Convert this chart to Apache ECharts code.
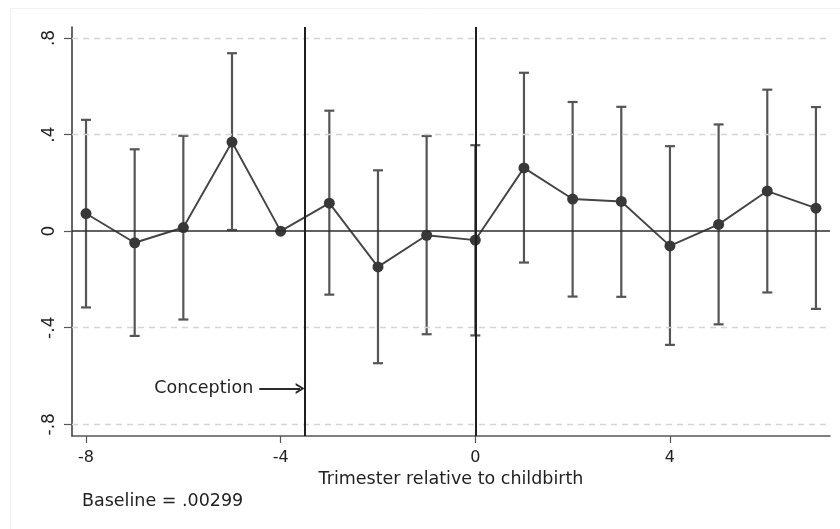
<!DOCTYPE html>
<html>
<head>
<meta charset="utf-8">
<script src="https://cdn.jsdelivr.net/npm/echarts@6/dist/echarts.min.js"></script>
<style>
  html, body { margin: 0; padding: 0; background: #fff; }
  #chart { width: 840px; height: 529px; }
</style>
</head>
<body>
<div id="chart"></div>
<script>
// Event-study estimates by trimester relative to childbirth (trimester -4 is the omitted reference)
const trimesters = [-8, -7, -6, -5, -4, -3, -2, -1, 0, 1, 2, 3, 4, 5, 6, 7];
const estimates  = [0.073, -0.048, 0.015, 0.369, 0, 0.116, -0.148, -0.017, -0.037, 0.262, 0.133, 0.123, -0.061, 0.028, 0.166, 0.095];
const ciLower    = [-0.316, -0.434, -0.366, 0.005, null, -0.263, -0.547, -0.427, -0.432, -0.130, -0.271, -0.272, -0.471, -0.386, -0.254, -0.322];
const ciUpper    = [0.461, 0.339, 0.395, 0.737, null, 0.499, 0.252, 0.394, 0.356, 0.656, 0.535, 0.515, 0.352, 0.442, 0.586, 0.514];

const xTicks = [-8, -4, 0, 4];
const yTicks = [-0.8, -0.4, 0, 0.4, 0.8];
const gridValues = [-0.8, -0.4, 0.4, 0.8];

const conceptionX = -3.5;
const birthX = 0;
const conceptionArrow = { from: [-4.44, -0.652], to: [-3.60, -0.652] };
const baselineText = 'Baseline = .00299';

const FONT = '"DejaVu Sans", "Liberation Sans", Arial, sans-serif';

const lineData = trimesters.map((t, i) => [t, estimates[i]]);
const barData = trimesters
  .map((t, i) => [t, ciLower[i], ciUpper[i]])
  .filter(d => d[1] !== null && d[2] !== null);

const fmtY = v => {
  if (Math.abs(v) < 1e-9) return '0';
  return String(Math.round(v * 10) / 10).replace('0.', '.');
};

const chart = echarts.init(document.getElementById('chart'), null, { renderer: 'canvas' });

chart.setOption({
  animation: false,
  backgroundColor: '#ffffff',
  textStyle: { fontFamily: FONT },
  grid: { left: 72, right: 10, top: 27, bottom: 93, containLabel: false },
  xAxis: {
    type: 'value',
    min: -8.288,
    max: 7.289,
    name: 'Trimester relative to childbirth',
    nameLocation: 'middle',
    nameGap: 31,
    nameTextStyle: { fontFamily: FONT, fontSize: 17.5, color: '#222' },
    axisLine: { show: true, onZero: false, lineStyle: { color: '#555', width: 1.5 } },
    axisTick: { show: true, inside: false, length: 7, customValues: xTicks, lineStyle: { color: '#555', width: 1.2 } },
    axisLabel: { show: true, customValues: xTicks, margin: 14, fontFamily: FONT, fontSize: 16, color: '#222' },
    splitLine: { show: false }
  },
  yAxis: {
    type: 'value',
    min: -0.8485,
    max: 0.8456,
    axisLine: { show: true, onZero: false, lineStyle: { color: '#333', width: 1.5 } },
    axisTick: { show: true, inside: false, length: 8, customValues: yTicks, lineStyle: { color: '#555', width: 1.2 } },
    axisLabel: {
      show: true, customValues: yTicks, rotate: 90, margin: 14,
      fontFamily: FONT, fontSize: 17, color: '#222', formatter: fmtY
    },
    splitLine: { show: false }
  },
  graphic: [
    {
      type: 'rect', silent: true, z: -10,
      shape: { x: 10.5, y: 8.5, width: 840, height: 540 },
      style: { fill: 'none', stroke: '#f0f0f0', lineWidth: 1 }
    },
    {
      type: 'text', left: 82, top: 492, silent: true,
      style: { text: baselineText, font: '17.5px ' + FONT, fill: '#222' }
    }
  ],
  series: [
    {
      // confidence intervals with caps
      type: 'custom',
      name: 'ci',
      z: 2,
      clip: false,
      data: barData,
      encode: { x: 0, y: [1, 2] },
      renderItem: (params, api) => {
        const x = api.value(0);
        const lo = api.coord([x, api.value(1)]);
        const hi = api.coord([x, api.value(2)]);
        const cap = 5;
        const style = { stroke: '#555555', lineWidth: 2.2 };
        return {
          type: 'group',
          children: [
            { type: 'line', shape: { x1: lo[0], y1: lo[1], x2: hi[0], y2: hi[1] }, style },
            { type: 'line', shape: { x1: lo[0] - cap, y1: lo[1], x2: lo[0] + cap, y2: lo[1] }, style },
            { type: 'line', shape: { x1: hi[0] - cap, y1: hi[1], x2: hi[0] + cap, y2: hi[1] }, style }
          ]
        };
      },
      markLine: {
        silent: true,
        symbol: ['none', 'none'],
        label: { show: false },
        lineStyle: { color: '#d4d4d4', width: 1.4, type: [6, 5] },
        data: gridValues.map(v => ({ yAxis: v }))
      }
    },
    {
      type: 'line',
      name: 'estimate',
      z: 4,
      data: lineData,
      symbol: 'circle',
      symbolSize: 11,
      itemStyle: { color: '#383838' },
      lineStyle: { color: '#444', width: 1.9 },
      markLine: {
        silent: true,
        symbol: ['none', 'none'],
        label: { show: false },
        data: [
          { yAxis: 0, lineStyle: { color: '#2e2e2e', width: 1.6, type: 'solid' } },
          { xAxis: conceptionX, lineStyle: { color: '#1e1e1e', width: 2, type: 'solid' } },
          { xAxis: birthX, lineStyle: { color: '#1e1e1e', width: 2, type: 'solid' } },
          [
            {
              coord: conceptionArrow.from,
              symbol: 'none',
              lineStyle: { color: '#2a2a2a', width: 1.8, type: 'solid' },
              label: {
                show: true, position: 'start', distance: 6, formatter: 'Conception',
                fontFamily: FONT, fontSize: 17.5, color: '#222'
              }
            },
            {
              coord: conceptionArrow.to,
              symbol: 'path://M0,10 L5,0 L10,10 L8,10 L5,3.8 L2,10 Z',
              symbolSize: [11, 9]
            }
          ]
        ]
      }
    }
  ]
});
</script>
</body>
</html>
